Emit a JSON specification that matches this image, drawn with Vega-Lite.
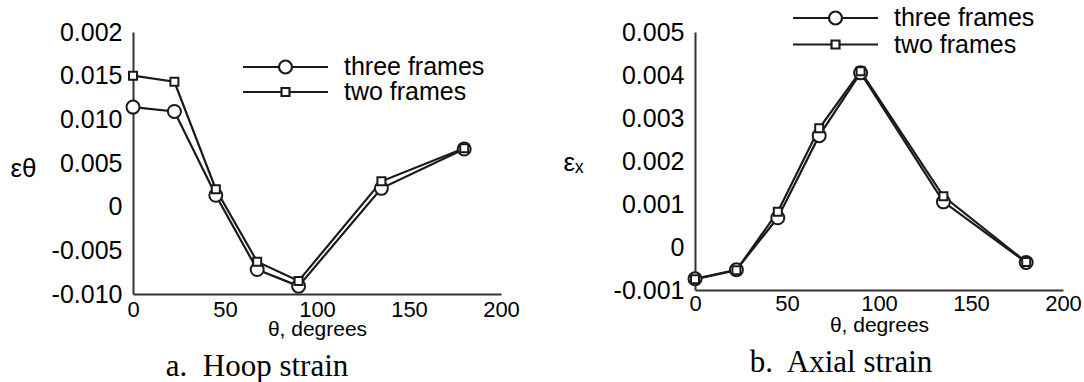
{
  "$schema": "https://vega.github.io/schema/vega-lite/v6.json",
  "padding": {"left": 10, "top": 5, "right": 5, "bottom": 5},
  "background": "white",
  "bounds": "flush",
  "spacing": 194,
  "config": {
    "view": {"stroke": null},
    "font": "Liberation Sans",
    "axis": {
      "domainColor": "#333333",
      "domainWidth": 2,
      "ticks": false,
      "grid": false,
      "labelColor": "#000000",
      "titleColor": "#000000",
      "labelFont": "Liberation Sans",
      "titleFont": "Liberation Sans",
      "titleFontWeight": "normal",
      "labelFlush": false,
      "labelOverlap": false
    },
    "legend": {
      "title": null,
      "orient": "none",
      "padding": 0,
      "labelFont": "Liberation Sans",
      "labelFontSize": 25,
      "labelColor": "#000000",
      "labelOffset": 46,
      "symbolStrokeColor": "#1a1a1a",
      "symbolStrokeWidth": 2.2,
      "symbolSize": 169
    },
    "title": {
      "font": "Liberation Serif",
      "fontSize": 31,
      "fontWeight": "normal",
      "color": "#000000",
      "orient": "bottom",
      "anchor": "middle",
      "frame": "group",
      "offset": 13
    }
  },
  "resolve": {
    "scale": {"opacity": "independent", "shape": "independent", "size": "independent", "x": "independent", "y": "independent"},
    "legend": {"opacity": "independent"}
  },
  "hconcat": [
    {
      "width": 368,
      "height": 262,
      "title": {"text": "a.\u00a0 Hoop strain", "dx": -60},
      "data": {
        "values": [
          {"theta": 0, "strain": 0.0114, "series": "three frames"},
          {"theta": 22.5, "strain": 0.0109, "series": "three frames"},
          {"theta": 45, "strain": 0.0013, "series": "three frames"},
          {"theta": 67.5, "strain": -0.0072, "series": "three frames"},
          {"theta": 90, "strain": -0.0091, "series": "three frames"},
          {"theta": 135, "strain": 0.0021, "series": "three frames"},
          {"theta": 180, "strain": 0.0066, "series": "three frames"},
          {"theta": 0, "strain": 0.0150, "series": "two frames"},
          {"theta": 22.5, "strain": 0.0143, "series": "two frames"},
          {"theta": 45, "strain": 0.0020, "series": "two frames"},
          {"theta": 67.5, "strain": -0.0063, "series": "two frames"},
          {"theta": 90, "strain": -0.0085, "series": "two frames"},
          {"theta": 135, "strain": 0.0029, "series": "two frames"},
          {"theta": 180, "strain": 0.0067, "series": "two frames"}
        ]
      },
      "encoding": {
        "x": {
          "field": "theta", "type": "quantitative",
          "scale": {"domain": [0, 200], "nice": false, "zero": false},
          "axis": {
            "title": "θ, degrees", "values": [0, 50, 100, 150, 200],
            "labelFontSize": 22, "labelPadding": 5,
            "titleFontSize": 21, "titleY": 35, "titleBaseline": "middle"
          }
        },
        "y": {
          "field": "strain", "type": "quantitative",
          "scale": {"domain": [-0.01, 0.02], "nice": false, "zero": false},
          "axis": {
            "title": "εθ", "titleAngle": 0, "titleAlign": "left", "titleBaseline": "middle",
            "titleX": -123, "titleY": 136, "titleFontSize": 26,
            "values": [-0.01, -0.005, 0, 0.005, 0.01, 0.015, 0.02],
            "labelExpr": "datum.value >= 0.0199 ? '0.002' : datum.value == 0 ? '0' : datum.value < 0 ? '-' + format(-datum.value, '.3f') : format(datum.value, '.3f')",
            "labelFontSize": 25, "labelPadding": 11
          }
        }
      },
      "resolve": {"scale": {"opacity": "independent"}, "legend": {"opacity": "independent"}},
      "layer": [
        {
          "transform": [{"filter": "datum.series == 'three frames'"}],
          "mark": {"type": "line", "strokeWidth": 2.2, "stroke": "#1a1a1a"},
          "encoding": {
            "opacity": {
              "field": "series", "type": "ordinal",
              "scale": {"range": [1, 1]},
              "legend": {
                "legendX": 140, "legendY": 22.5,
                "symbolType": "M-6.54,0L-1,0M1,0L6.54,0M-1,0A1,1,0,1,1,1,0A1,1,0,1,1,-1,0Z"
              }
            }
          }
        },
        {
          "transform": [{"filter": "datum.series == 'two frames'"}],
          "mark": {"type": "line", "strokeWidth": 2.2, "stroke": "#1a1a1a"},
          "encoding": {
            "opacity": {
              "field": "series", "type": "ordinal",
              "scale": {"range": [1, 1]},
              "legend": {
                "legendX": 140, "legendY": 47.5,
                "symbolType": "M-6.54,0L-0.615,0M0.615,0L6.54,0M-0.615,-0.615A0,0,0,0,1,-0.615,-0.615L0.615,-0.615L0.615,0.615L-0.615,0.615Z"
              }
            }
          }
        },
        {
          "mark": {"type": "point", "filled": true, "fill": "white", "stroke": "#1a1a1a", "strokeWidth": 2, "opacity": 1},
          "encoding": {
            "shape": {
              "field": "series", "type": "nominal",
              "scale": {"domain": ["three frames", "two frames"], "range": ["circle", "square"]},
              "legend": null
            },
            "size": {
              "field": "series", "type": "nominal",
              "scale": {"type": "ordinal", "domain": ["three frames", "two frames"], "range": [169, 64]},
              "legend": null
            }
          }
        }
      ]
    },
    {
      "width": 368,
      "height": 258,
      "title": {"text": "b.\u00a0 Axial strain", "dx": -38},
      "data": {
        "values": [
          {"theta": 0, "strain": -0.00074, "series": "three frames"},
          {"theta": 22.5, "strain": -0.00053, "series": "three frames"},
          {"theta": 45, "strain": 0.00068, "series": "three frames"},
          {"theta": 67.5, "strain": 0.00259, "series": "three frames"},
          {"theta": 90, "strain": 0.00405, "series": "three frames"},
          {"theta": 135, "strain": 0.00105, "series": "three frames"},
          {"theta": 180, "strain": -0.00036, "series": "three frames"},
          {"theta": 0, "strain": -0.00075, "series": "two frames"},
          {"theta": 22.5, "strain": -0.00054, "series": "two frames"},
          {"theta": 45, "strain": 0.00082, "series": "two frames"},
          {"theta": 67.5, "strain": 0.00276, "series": "two frames"},
          {"theta": 90, "strain": 0.00409, "series": "two frames"},
          {"theta": 135, "strain": 0.00118, "series": "two frames"},
          {"theta": 180, "strain": -0.00035, "series": "two frames"}
        ]
      },
      "encoding": {
        "x": {
          "field": "theta", "type": "quantitative",
          "scale": {"domain": [0, 200], "nice": false, "zero": false},
          "axis": {
            "title": "θ, degrees", "values": [0, 50, 100, 150, 200],
            "labelFontSize": 22, "labelPadding": 3,
            "titleFontSize": 21, "titleY": 35, "titleBaseline": "middle"
          }
        },
        "y": {
          "field": "strain", "type": "quantitative",
          "scale": {"domain": [-0.001, 0.005], "nice": false, "zero": false},
          "axis": {
            "title": "εₓ", "titleAngle": 0, "titleAlign": "left", "titleBaseline": "middle",
            "titleX": -132, "titleY": 130, "titleFontSize": 26,
            "values": [-0.001, 0, 0.001, 0.002, 0.003, 0.004, 0.005],
            "labelExpr": "datum.value == 0 ? '0' : datum.value < 0 ? '-' + format(-datum.value, '.3f') : format(datum.value, '.3f')",
            "labelFontSize": 25, "labelPadding": 11
          }
        }
      },
      "resolve": {"scale": {"opacity": "independent"}, "legend": {"opacity": "independent"}},
      "layer": [
        {
          "transform": [{"filter": "datum.series == 'three frames'"}],
          "mark": {"type": "line", "strokeWidth": 2.2, "stroke": "#1a1a1a"},
          "encoding": {
            "opacity": {
              "field": "series", "type": "ordinal",
              "scale": {"range": [1, 1]},
              "legend": {
                "legendX": 128, "legendY": -26.5,
                "symbolType": "M-6.54,0L-1,0M1,0L6.54,0M-1,0A1,1,0,1,1,1,0A1,1,0,1,1,-1,0Z"
              }
            }
          }
        },
        {
          "transform": [{"filter": "datum.series == 'two frames'"}],
          "mark": {"type": "line", "strokeWidth": 2.2, "stroke": "#1a1a1a"},
          "encoding": {
            "opacity": {
              "field": "series", "type": "ordinal",
              "scale": {"range": [1, 1]},
              "legend": {
                "legendX": 128, "legendY": 0,
                "symbolType": "M-6.54,0L-0.615,0M0.615,0L6.54,0M-0.615,-0.615A0,0,0,0,1,-0.615,-0.615L0.615,-0.615L0.615,0.615L-0.615,0.615Z"
              }
            }
          }
        },
        {
          "mark": {"type": "point", "filled": true, "fill": "white", "stroke": "#1a1a1a", "strokeWidth": 2, "opacity": 1},
          "encoding": {
            "shape": {
              "field": "series", "type": "nominal",
              "scale": {"domain": ["three frames", "two frames"], "range": ["circle", "square"]},
              "legend": null
            },
            "size": {
              "field": "series", "type": "nominal",
              "scale": {"type": "ordinal", "domain": ["three frames", "two frames"], "range": [169, 64]},
              "legend": null
            }
          }
        }
      ]
    }
  ]
}
